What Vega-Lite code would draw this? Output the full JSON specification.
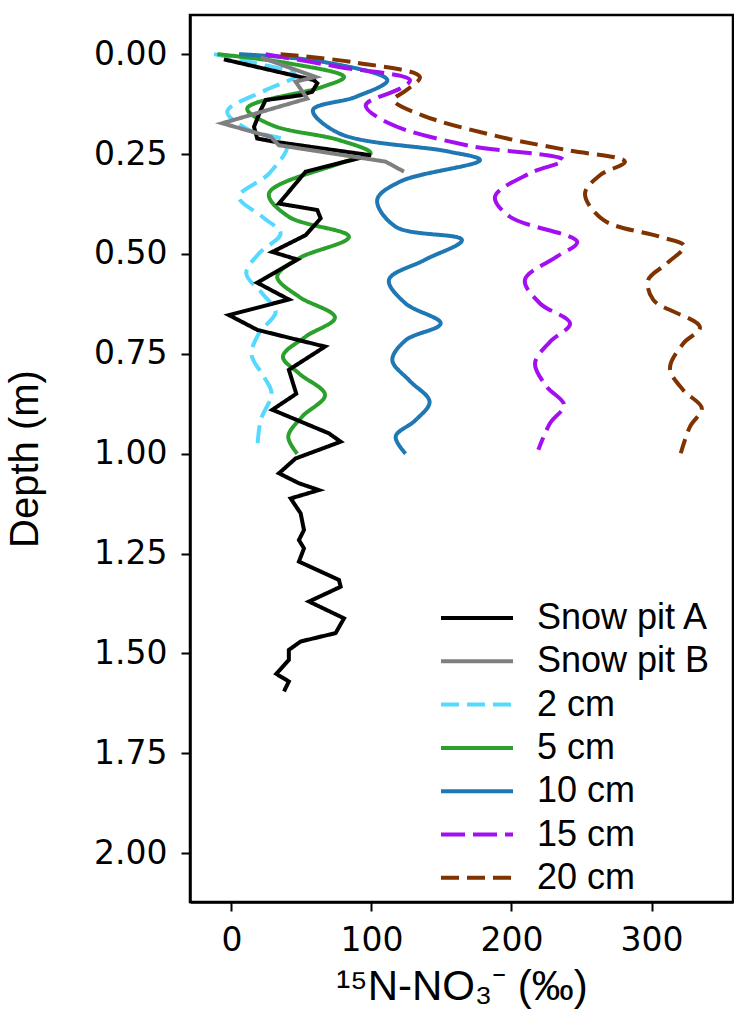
{
  "$schema": "https://vega.github.io/schema/vega-lite/v6.json",
  "width": 543,
  "height": 887,
  "autosize": {"type": "none"},
  "padding": {"left": 190, "top": 15, "right": 1, "bottom": 115},
  "background": "white",
  "config": {
    "view": {"stroke": "black", "strokeWidth": 2.5},
    "axis": {
      "grid": false,
      "domainColor": "black",
      "domainWidth": 2.5,
      "tickColor": "black",
      "tickWidth": 2,
      "tickSize": 9,
      "labelFont": "DejaVu Sans",
      "labelFontSize": 33,
      "labelColor": "black",
      "titleFont": "Liberation Sans",
      "titleFontWeight": "normal",
      "titleColor": "black"
    }
  },
  "data": {
    "values": [
      {"s": "Snow pit A", "i": 1, "x": -5.4, "d": 0.013},
      {"s": "Snow pit A", "i": 2, "x": 58.9, "d": 0.065},
      {"s": "Snow pit A", "i": 3, "x": 61.3, "d": 0.073},
      {"s": "Snow pit A", "i": 4, "x": 57.7, "d": 0.094},
      {"s": "Snow pit A", "i": 5, "x": 49.4, "d": 0.103},
      {"s": "Snow pit A", "i": 6, "x": 24.4, "d": 0.115},
      {"s": "Snow pit A", "i": 7, "x": 20.9, "d": 0.14},
      {"s": "Snow pit A", "i": 8, "x": 16.1, "d": 0.182},
      {"s": "Snow pit A", "i": 9, "x": 18.4, "d": 0.211},
      {"s": "Snow pit A", "i": 10, "x": 30.4, "d": 0.219},
      {"s": "Snow pit A", "i": 11, "x": 99.4, "d": 0.253},
      {"s": "Snow pit A", "i": 12, "x": 53, "d": 0.294},
      {"s": "Snow pit A", "i": 13, "x": 33.9, "d": 0.374},
      {"s": "Snow pit A", "i": 14, "x": 61.3, "d": 0.39},
      {"s": "Snow pit A", "i": 15, "x": 63.7, "d": 0.411},
      {"s": "Snow pit A", "i": 16, "x": 53, "d": 0.453},
      {"s": "Snow pit A", "i": 17, "x": 29.2, "d": 0.495},
      {"s": "Snow pit A", "i": 18, "x": 47, "d": 0.514},
      {"s": "Snow pit A", "i": 19, "x": 18.4, "d": 0.572},
      {"s": "Snow pit A", "i": 20, "x": 41, "d": 0.614},
      {"s": "Snow pit A", "i": 21, "x": -1.8, "d": 0.653},
      {"s": "Snow pit A", "i": 22, "x": 18.4, "d": 0.69},
      {"s": "Snow pit A", "i": 23, "x": 66.8, "d": 0.732},
      {"s": "Snow pit A", "i": 24, "x": 41, "d": 0.79},
      {"s": "Snow pit A", "i": 25, "x": 46.3, "d": 0.85},
      {"s": "Snow pit A", "i": 26, "x": 29.2, "d": 0.89},
      {"s": "Snow pit A", "i": 27, "x": 69.6, "d": 0.949},
      {"s": "Snow pit A", "i": 28, "x": 78, "d": 0.97},
      {"s": "Snow pit A", "i": 29, "x": 45.8, "d": 1.012},
      {"s": "Snow pit A", "i": 30, "x": 33.9, "d": 1.049},
      {"s": "Snow pit A", "i": 31, "x": 48.2, "d": 1.074},
      {"s": "Snow pit A", "i": 32, "x": 62.5, "d": 1.091},
      {"s": "Snow pit A", "i": 33, "x": 42.3, "d": 1.112},
      {"s": "Snow pit A", "i": 34, "x": 49.4, "d": 1.149},
      {"s": "Snow pit A", "i": 35, "x": 51.8, "d": 1.191},
      {"s": "Snow pit A", "i": 36, "x": 48.2, "d": 1.216},
      {"s": "Snow pit A", "i": 37, "x": 51.8, "d": 1.237},
      {"s": "Snow pit A", "i": 38, "x": 48.2, "d": 1.27},
      {"s": "Snow pit A", "i": 39, "x": 76.8, "d": 1.316},
      {"s": "Snow pit A", "i": 40, "x": 78, "d": 1.333},
      {"s": "Snow pit A", "i": 41, "x": 55.4, "d": 1.37},
      {"s": "Snow pit A", "i": 42, "x": 80.4, "d": 1.412},
      {"s": "Snow pit A", "i": 43, "x": 74.4, "d": 1.449},
      {"s": "Snow pit A", "i": 44, "x": 49.4, "d": 1.47},
      {"s": "Snow pit A", "i": 45, "x": 41, "d": 1.491},
      {"s": "Snow pit A", "i": 46, "x": 41, "d": 1.516},
      {"s": "Snow pit A", "i": 47, "x": 32, "d": 1.551},
      {"s": "Snow pit A", "i": 48, "x": 41, "d": 1.57},
      {"s": "Snow pit A", "i": 49, "x": 37.5, "d": 1.595},

      {"s": "Snow pit B", "i": 1, "x": 20.9, "d": 0.008},
      {"s": "Snow pit B", "i": 2, "x": 60.1, "d": 0.057},
      {"s": "Snow pit B", "i": 3, "x": 45.8, "d": 0.069},
      {"s": "Snow pit B", "i": 4, "x": 54.1, "d": 0.111},
      {"s": "Snow pit B", "i": 5, "x": -6.6, "d": 0.173},
      {"s": "Snow pit B", "i": 6, "x": 28, "d": 0.207},
      {"s": "Snow pit B", "i": 7, "x": 33.9, "d": 0.228},
      {"s": "Snow pit B", "i": 8, "x": 110.1, "d": 0.269},
      {"s": "Snow pit B", "i": 9, "x": 123.2, "d": 0.294},

      {"s": "2 cm", "i": 1, "x": -12.5, "d": 0},
      {"s": "2 cm", "i": 2, "x": 12.5, "d": 0.019},
      {"s": "2 cm", "i": 3, "x": 45.8, "d": 0.053},
      {"s": "2 cm", "i": 4, "x": 24.4, "d": 0.09},
      {"s": "2 cm", "i": 5, "x": -3, "d": 0.144},
      {"s": "2 cm", "i": 6, "x": 12.5, "d": 0.19},
      {"s": "2 cm", "i": 7, "x": 39.9, "d": 0.223},
      {"s": "2 cm", "i": 8, "x": 26.8, "d": 0.299},
      {"s": "2 cm", "i": 9, "x": 5.4, "d": 0.357},
      {"s": "2 cm", "i": 10, "x": 22, "d": 0.407},
      {"s": "2 cm", "i": 11, "x": 35.1, "d": 0.449},
      {"s": "2 cm", "i": 12, "x": 19.6, "d": 0.499},
      {"s": "2 cm", "i": 13, "x": 10.6, "d": 0.549},
      {"s": "2 cm", "i": 14, "x": 22, "d": 0.599},
      {"s": "2 cm", "i": 15, "x": 31.6, "d": 0.645},
      {"s": "2 cm", "i": 16, "x": 19.6, "d": 0.699},
      {"s": "2 cm", "i": 17, "x": 14.4, "d": 0.753},
      {"s": "2 cm", "i": 18, "x": 23.2, "d": 0.807},
      {"s": "2 cm", "i": 19, "x": 28.7, "d": 0.849},
      {"s": "2 cm", "i": 20, "x": 20.9, "d": 0.916},
      {"s": "2 cm", "i": 21, "x": 18.4, "d": 0.99},

      {"s": "5 cm", "i": 1, "x": -10.1, "d": 0},
      {"s": "5 cm", "i": 2, "x": 41, "d": 0.023},
      {"s": "5 cm", "i": 3, "x": 80.4, "d": 0.057},
      {"s": "5 cm", "i": 4, "x": 64.9, "d": 0.082},
      {"s": "5 cm", "i": 5, "x": 11.3, "d": 0.136},
      {"s": "5 cm", "i": 6, "x": 29.2, "d": 0.178},
      {"s": "5 cm", "i": 7, "x": 76.8, "d": 0.215},
      {"s": "5 cm", "i": 8, "x": 99.4, "d": 0.248},
      {"s": "5 cm", "i": 9, "x": 76.8, "d": 0.274},
      {"s": "5 cm", "i": 10, "x": 26.8, "d": 0.349},
      {"s": "5 cm", "i": 11, "x": 41, "d": 0.407},
      {"s": "5 cm", "i": 12, "x": 83.9, "d": 0.457},
      {"s": "5 cm", "i": 13, "x": 48.2, "d": 0.511},
      {"s": "5 cm", "i": 14, "x": 32.7, "d": 0.557},
      {"s": "5 cm", "i": 15, "x": 48.2, "d": 0.607},
      {"s": "5 cm", "i": 16, "x": 73.9, "d": 0.659},
      {"s": "5 cm", "i": 17, "x": 53, "d": 0.707},
      {"s": "5 cm", "i": 18, "x": 36.8, "d": 0.757},
      {"s": "5 cm", "i": 19, "x": 48.2, "d": 0.799},
      {"s": "5 cm", "i": 20, "x": 66.8, "d": 0.853},
      {"s": "5 cm", "i": 21, "x": 50.6, "d": 0.907},
      {"s": "5 cm", "i": 22, "x": 40.6, "d": 0.957},
      {"s": "5 cm", "i": 23, "x": 47, "d": 1.0},

      {"s": "10 cm", "i": 1, "x": 5.4, "d": 0},
      {"s": "10 cm", "i": 2, "x": 64.9, "d": 0.019},
      {"s": "10 cm", "i": 3, "x": 111.3, "d": 0.065},
      {"s": "10 cm", "i": 4, "x": 88.7, "d": 0.107},
      {"s": "10 cm", "i": 5, "x": 58.2, "d": 0.14},
      {"s": "10 cm", "i": 6, "x": 76.8, "d": 0.198},
      {"s": "10 cm", "i": 7, "x": 155.4, "d": 0.244},
      {"s": "10 cm", "i": 8, "x": 177.5, "d": 0.265},
      {"s": "10 cm", "i": 9, "x": 120.4, "d": 0.319},
      {"s": "10 cm", "i": 10, "x": 104.1, "d": 0.365},
      {"s": "10 cm", "i": 11, "x": 117.3, "d": 0.432},
      {"s": "10 cm", "i": 12, "x": 164.6, "d": 0.465},
      {"s": "10 cm", "i": 13, "x": 138, "d": 0.515},
      {"s": "10 cm", "i": 14, "x": 112.5, "d": 0.565},
      {"s": "10 cm", "i": 15, "x": 124.4, "d": 0.624},
      {"s": "10 cm", "i": 16, "x": 149.4, "d": 0.674},
      {"s": "10 cm", "i": 17, "x": 124.4, "d": 0.716},
      {"s": "10 cm", "i": 18, "x": 114.9, "d": 0.766},
      {"s": "10 cm", "i": 19, "x": 126.8, "d": 0.816},
      {"s": "10 cm", "i": 20, "x": 141.5, "d": 0.87},
      {"s": "10 cm", "i": 21, "x": 131.5, "d": 0.916},
      {"s": "10 cm", "i": 22, "x": 117.3, "d": 0.957},
      {"s": "10 cm", "i": 23, "x": 124.4, "d": 1.0},

      {"s": "15 cm", "i": 1, "x": 24.4, "d": 0},
      {"s": "15 cm", "i": 2, "x": 76.8, "d": 0.032},
      {"s": "15 cm", "i": 3, "x": 127.5, "d": 0.065},
      {"s": "15 cm", "i": 4, "x": 120.4, "d": 0.086},
      {"s": "15 cm", "i": 5, "x": 95.9, "d": 0.128},
      {"s": "15 cm", "i": 6, "x": 112.5, "d": 0.173},
      {"s": "15 cm", "i": 7, "x": 168, "d": 0.228},
      {"s": "15 cm", "i": 8, "x": 237, "d": 0.265},
      {"s": "15 cm", "i": 9, "x": 213.2, "d": 0.298},
      {"s": "15 cm", "i": 10, "x": 188.2, "d": 0.357},
      {"s": "15 cm", "i": 11, "x": 198.9, "d": 0.407},
      {"s": "15 cm", "i": 12, "x": 247, "d": 0.47},
      {"s": "15 cm", "i": 13, "x": 232.3, "d": 0.507},
      {"s": "15 cm", "i": 14, "x": 209.6, "d": 0.565},
      {"s": "15 cm", "i": 15, "x": 220.4, "d": 0.624},
      {"s": "15 cm", "i": 16, "x": 241.8, "d": 0.674},
      {"s": "15 cm", "i": 17, "x": 227.5, "d": 0.72},
      {"s": "15 cm", "i": 18, "x": 216.8, "d": 0.774},
      {"s": "15 cm", "i": 19, "x": 225.1, "d": 0.832},
      {"s": "15 cm", "i": 20, "x": 237.5, "d": 0.878},
      {"s": "15 cm", "i": 21, "x": 227.5, "d": 0.924},
      {"s": "15 cm", "i": 22, "x": 219.2, "d": 0.99},

      {"s": "20 cm", "i": 1, "x": 35.1, "d": 0},
      {"s": "20 cm", "i": 2, "x": 88.7, "d": 0.021},
      {"s": "20 cm", "i": 3, "x": 134.6, "d": 0.057},
      {"s": "20 cm", "i": 4, "x": 125.1, "d": 0.09},
      {"s": "20 cm", "i": 5, "x": 116, "d": 0.115},
      {"s": "20 cm", "i": 6, "x": 136.3, "d": 0.153},
      {"s": "20 cm", "i": 7, "x": 191.8, "d": 0.207},
      {"s": "20 cm", "i": 8, "x": 239.4, "d": 0.24},
      {"s": "20 cm", "i": 9, "x": 281, "d": 0.269},
      {"s": "20 cm", "i": 10, "x": 263.2, "d": 0.303},
      {"s": "20 cm", "i": 11, "x": 252.5, "d": 0.349},
      {"s": "20 cm", "i": 12, "x": 265.6, "d": 0.415},
      {"s": "20 cm", "i": 13, "x": 306, "d": 0.457},
      {"s": "20 cm", "i": 14, "x": 323.3, "d": 0.48},
      {"s": "20 cm", "i": 15, "x": 310.9, "d": 0.524},
      {"s": "20 cm", "i": 16, "x": 297.7, "d": 0.565},
      {"s": "20 cm", "i": 17, "x": 301.3, "d": 0.615},
      {"s": "20 cm", "i": 18, "x": 334.6, "d": 0.683},
      {"s": "20 cm", "i": 19, "x": 322.7, "d": 0.724},
      {"s": "20 cm", "i": 20, "x": 313.2, "d": 0.786},
      {"s": "20 cm", "i": 21, "x": 322.7, "d": 0.841},
      {"s": "20 cm", "i": 22, "x": 335.9, "d": 0.886},
      {"s": "20 cm", "i": 23, "x": 327.5, "d": 0.932},
      {"s": "20 cm", "i": 24, "x": 320.9, "d": 0.999}
    ]
  },
  "encoding": {
    "x": {
      "field": "x",
      "type": "quantitative",
      "scale": {"domain": [-29.6, 358.2], "nice": false, "zero": false},
      "axis": {
        "values": [0, 100, 200, 300],
        "title": "¹⁵N-NO₃⁻ (‰)",
        "titleFontSize": 42,
        "titlePadding": 9,
        "labelPadding": 13,
        "format": "d"
      }
    },
    "y": {
      "field": "d",
      "type": "quantitative",
      "scale": {"domain": [-0.098, 2.122], "nice": false, "zero": false, "reverse": true},
      "axis": {
        "values": [0, 0.25, 0.5, 0.75, 1.0, 1.25, 1.5, 1.75, 2.0],
        "format": ".2f",
        "title": "Depth (m)",
        "titleFontSize": 40,
        "titlePadding": 48,
        "labelPadding": 14
      }
    },
    "order": {"field": "i", "type": "quantitative"},
    "color": {
      "field": "s",
      "type": "nominal",
      "scale": {
        "domain": ["Snow pit A", "Snow pit B", "2 cm", "5 cm", "10 cm", "15 cm", "20 cm"],
        "range": ["#000000", "#7f7f7f", "#56d9ff", "#2ca02c", "#1f77b4", "#a30ff0", "#7f3300"]
      },
      "legend": {
        "title": null,
        "orient": "none",
        "legendX": 269,
        "legendY": 585,
        "padding": 0,
        "symbolType": "M-3,0H3",
        "symbolSize": 576,
        "symbolStrokeWidth": 4,
        "labelFont": "Liberation Sans",
        "labelFontSize": 36,
        "labelColor": "black",
        "labelOffset": 42,
        "rowPadding": 7.3,
        "labelLimit": 400
      }
    },
    "strokeDash": {
      "field": "s",
      "type": "nominal",
      "scale": {
        "domain": ["Snow pit A", "Snow pit B", "2 cm", "5 cm", "10 cm", "15 cm", "20 cm"],
        "range": [[1, 0], [1, 0], [18, 8], [1, 0], [1, 0], [24, 8], [18, 8]]
      },
      "legend": {
        "title": null,
        "orient": "none",
        "legendX": 269,
        "legendY": 585,
        "padding": 0,
        "symbolType": "M-3,0H3",
        "symbolSize": 576,
        "symbolStrokeWidth": 4,
        "labelFont": "Liberation Sans",
        "labelFontSize": 36,
        "labelColor": "black",
        "labelOffset": 42,
        "rowPadding": 7.3,
        "labelLimit": 400
      }
    }
  },
  "layer": [
    {
      "transform": [{"filter": {"field": "s", "oneOf": ["2 cm", "5 cm", "10 cm", "15 cm", "20 cm"]}}],
      "mark": {"type": "line", "strokeWidth": 4, "interpolate": "catmull-rom", "clip": true}
    },
    {
      "transform": [{"filter": {"field": "s", "oneOf": ["Snow pit A", "Snow pit B"]}}],
      "mark": {"type": "line", "strokeWidth": 4, "strokeJoin": "miter", "clip": true}
    }
  ]
}
